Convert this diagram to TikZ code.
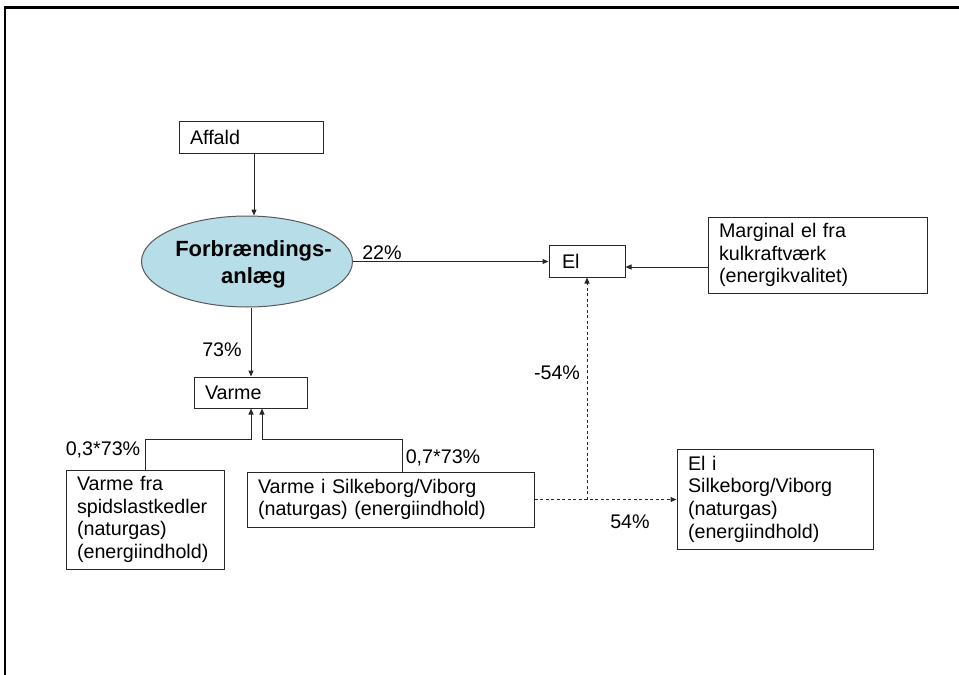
\documentclass[tikz,border=0pt]{standalone}
\usepackage{fontspec}
\setmainfont{Liberation Sans}
\usetikzlibrary{arrows.meta,shapes.geometric}
\definecolor{ellfill}{RGB}{183,221,232}
\definecolor{linec}{RGB}{40,40,40}
\tikzset{
  box/.style={draw=linec, line width=1pt, inner xsep=11pt, inner ysep=0pt, align=left,
              font=\fontsize{19.7}{22.7}\selectfont},
  lbl/.style={inner sep=0pt, font=\fontsize{19.7}{22.7}\selectfont},
  arr/.style={draw=linec, line width=1pt, -{Triangle[length=6pt,width=5pt]}},
  darr/.style={arr, dash pattern=on 3pt off 2.5pt},
  frame/.style={draw=black, line width=2.2pt}
}
\begin{document}
\begin{tikzpicture}[x=1pt,y=-1pt]
\useasboundingbox (0,0) rectangle (959,675);
\draw[frame] (4.8,680) -- (4.8,7.5) -- (965,7.5);

% nodes
\node[box, minimum width=144, minimum height=32, text width=122] (affald) at (251,137) {Affald};
\node[ellipse, draw=black!65, line width=1pt, fill=ellfill, minimum width=211, minimum height=91,
      inner sep=0pt] (forb) at (247,261.5) {};
\node[inner sep=0pt, align=center, font=\bfseries\fontsize{22}{26.6}\selectfont] (forbtxt)
      at (253.5,264.3) {Forbrændings-\\anlæg};
\node[box, minimum width=76, minimum height=32, text width=54] (el) at (587,261) {\hspace*{2pt}El};
\node[box, minimum width=219, minimum height=76, text width=197] (marg) at (817.5,255)
      {Marginal el fra\\kulkraftværk\\(energikvalitet)};
\node[box, minimum width=113, minimum height=31, text width=91] (varme) at (250.5,392.5) {Varme};
\node[box, minimum width=158, minimum height=99, text width=136] (spid) at (145,519.5)
      {Varme fra\\spidslastkedler\\(naturgas)\\(energiindhold)};
\node[box, minimum width=287, minimum height=55, text width=265] (silk) at (390.5,499.5)
      {Varme i Silkeborg/Viborg\\(naturgas) (energiindhold)};
\node[box, minimum width=196, minimum height=100, text width=174] (eli) at (775,499)
      {El i\\Silkeborg/Viborg\\(naturgas)\\(energiindhold)};

% junction coordinates
\coordinate (jl) at (251,439);
\coordinate (jr) at (262,439);
\coordinate (jd) at (587,499.5);

% connectors
\draw[arr] (affald.south -| 254,0) -- (forb.north -| 254,0);
\draw[arr] (forb.south -| 251,0) -- (varme.north -| 251,0);
\draw[arr] (forb.east) -- (el.west |- forb.east);
\draw[arr] (marg.west |- 0,267) -- (el.east |- 0,267);
\draw[arr] (spid.north) |- (jl) -- (varme.south -| jl);
\draw[arr] (silk.north -| 402,0) |- (jr) -- (varme.south -| jr);
\draw[darr] (silk.east) -- (eli.west |- silk.east);
\draw[darr] (jd) -- (el.south);

% labels
\node[lbl] (l22) at (382,253) {22\%};
\node[lbl] (l73) at (222,350) {73\%};
\node[lbl] (lm54) at (557,373) {-54\%};
\node[lbl] (l54) at (630,522) {54\%};
\node[lbl] (l03) at (103,450) {0,3*73\%};
\node[lbl] (l07) at (443,458) {0,7*73\%};
\end{tikzpicture}
\end{document}
